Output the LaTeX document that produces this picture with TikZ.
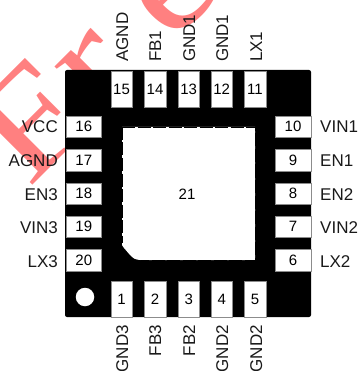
\documentclass[tikz,border=0pt]{standalone}
\usepackage{fontspec}
\setmainfont{Liberation Sans}
\newfontfamily\wmfont[FakeStretch=1.2]{Liberation Serif}
\definecolor{wm}{HTML}{FF8080}
\tikzset{
  pinh/.style={draw=black!45,line width=.4pt,fill=white,minimum width=35.5pt,minimum height=21.5pt,inner sep=0pt,font=\fontsize{15}{15}\selectfont},
  pinv/.style={draw=black!45,line width=.4pt,fill=white,minimum width=21.5pt,minimum height=36pt,inner sep=0pt,font=\fontsize{15}{15}\selectfont},
  lab/.style={inner sep=0pt,font=\fontsize{17}{17}\selectfont,text=black!90},
  wmark/.style={inner sep=0pt,text=wm,rotate=45,anchor=base west,font=\wmfont\fontsize{145}{145}\selectfont}
}
\begin{document}
\begin{tikzpicture}[x=1pt,y=-1pt]
\useasboundingbox (0,0) rectangle (360,371);
\clip (0,0) rectangle (360,371);
\node[wmark] (wf) at (28,190) {F};
\node[wmark] (wr) at (99,117) {r};
\node[wmark] (we) at (171,45) {e};
\node[fill=black,rounded corners=2pt,minimum width=246pt,minimum height=247pt,inner sep=0pt] (body) at (188,193.5) {};
\draw[fill=white,draw=none] (122,127) -- (255,127) -- (255,260) -- (141,260) .. controls (135,260) and (133,258) .. (130,255) -- (124,248) .. controls (122,246) and (122,245) .. (122,243) -- cycle;
\draw[black,line width=.7pt,dash pattern=on 13pt off 2.5pt] (122,127) -- (255,127) -- (255,260) -- (141,260);
\draw[black,line width=.7pt,dash pattern=on 13pt off 2.5pt] (122,127) -- (122,243);
\node[inner sep=0pt,font=\fontsize{15}{15}\selectfont] (pad) at (187,194) {21};
\node[circle,fill=white,minimum size=18.5pt,inner sep=0pt] (dot) at (85,297) {};
\foreach \n/\x in {15/121.5,14/155,13/188.7,12/221.7,11/255}
  \node[pinv] (p\n) at (\x,89) {\n};
\foreach \n/\x in {1/121.5,2/155,3/188.7,4/221.7,5/255}
  \node[pinv] (p\n) at (\x,299) {\n};
\foreach \n/\y in {16/126.7,17/160.3,18/193.5,19/226.7,20/260.3}
  \node[pinh] (p\n) at (83.8,\y) {\n};
\foreach \n/\y in {10/126.7,9/160.3,8/193.5,7/226.7,6/260.3}
  \node[pinh] (p\n) at (293,\y) {\n};
\foreach \t/\x/\m in {AGND/128/a,FB1/161/b,GND1/195/c,GND1/228/d,LX1/262/e}
  \node[lab,rotate=90,anchor=base west] (t\m) at (\x,62) {\t};
\foreach \t/\x/\m in {GND3/128/a,FB3/161/b,FB2/195/c,GND2/228/d,GND2/262/e}
  \node[lab,rotate=90,anchor=base east] (u\m) at (\x,325) {\t};
\foreach \t/\y/\m in {VCC/133/a,AGND/167/b,EN3/200/c,VIN3/233/d,LX3/267/e}
  \node[lab,anchor=base east] (l\m) at (58,\y) {\t};
\foreach \t/\y/\m in {VIN1/133/a,EN1/167/b,EN2/200/c,VIN2/233/d,LX2/267/e}
  \node[lab,anchor=base west] (r\m) at (320,\y) {\t};
\end{tikzpicture}
\end{document}
